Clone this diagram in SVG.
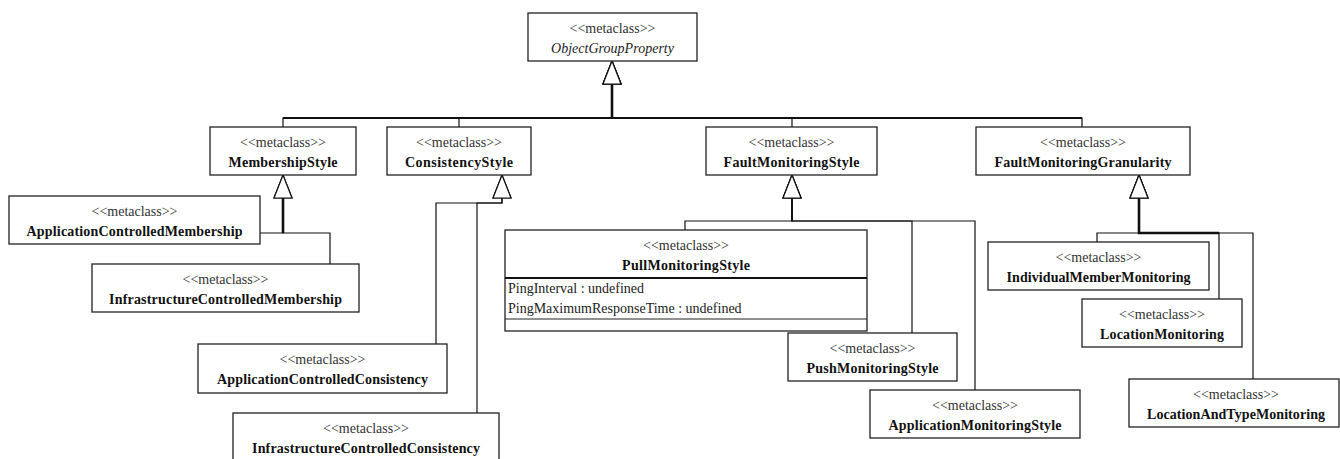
<svg xmlns="http://www.w3.org/2000/svg" width="1340" height="459" viewBox="0 0 1340 459">
<style>
  .box { fill: #ffffff; stroke: #222222; stroke-width: 1.3; }
  .sep { stroke: #111111; stroke-width: 2; }
  .sep2 { stroke: #222222; stroke-width: 1.2; }
  .st { font-family: "Liberation Serif", "Times New Roman", serif; font-size: 14px; fill: #333333; text-anchor: middle; }
  .nm { font-family: "Liberation Serif", "Times New Roman", serif; font-size: 14px; font-weight: bold; fill: #111111; text-anchor: middle; }
  .it { font-family: "Liberation Serif", "Times New Roman", serif; font-size: 14px; font-style: italic; fill: #222222; text-anchor: middle; }
  .at { font-family: "Liberation Serif", "Times New Roman", serif; font-size: 14px; fill: #222222; }
  .ln { fill: none; stroke: #111111; stroke-width: 1.2; marker-end: url(#gen); }
  .trunk { fill: none; stroke: #111111; stroke-width: 2.6; }
  .bar { fill: none; stroke: #111111; stroke-width: 1.8; }
</style>
<defs>
  <marker id="gen" markerUnits="userSpaceOnUse" viewBox="-1 -1 25 20" markerWidth="25" markerHeight="20" refX="23" refY="9" orient="auto">
    <path d="M0,0 L23,9 L0,18 Z" fill="#ffffff" stroke="#111111" stroke-width="1.2"/>
  </marker>
</defs>

<g id="connectors">
  <!-- to ObjectGroupProperty -->
  <path class="trunk" d="M612,118 L612,84"/>
  <path class="bar" d="M283,118 L1082,118"/>
  <path class="ln" d="M283,127 L283,118 L612,118 L612,61"/>
  <path class="ln" d="M459,127 L459,118 L612,118 L612,61"/>
  <path class="ln" d="M792,127 L792,118 L612,118 L612,61"/>
  <path class="ln" d="M1082,127 L1082,118 L612,118 L612,61"/>
  <!-- to MembershipStyle -->
  <path class="trunk" d="M283,233 L283,198"/>
  <path class="ln" d="M260,233 L283,233 L283,175"/>
  <path class="ln" d="M330,264 L330,233 L283,233 L283,175"/>
  <!-- to ConsistencyStyle -->
  <path class="ln" d="M436,344 L436,203 L502,203 L502,175"/>
  <path class="ln" d="M477,413 L477,203 L502,203 L502,175"/>
  <!-- to FaultMonitoringStyle -->
  <path class="bar" d="M792,221 L792,198"/>
  <path class="ln" d="M685,230 L685,221 L792,221 L792,175"/>
  <path class="ln" d="M912,333 L912,221 L792,221 L792,175"/>
  <path class="ln" d="M975,390 L975,221 L792,221 L792,175"/>
  <!-- to FaultMonitoringGranularity -->
  <path class="trunk" d="M1219,233 L1139,233 L1139,199"/>
  <path class="ln" d="M1097,242 L1097,233 L1139,233 L1139,175"/>
  <path class="ln" d="M1219,299 L1219,233 L1139,233 L1139,175"/>
  <path class="ln" d="M1253,379 L1253,233 L1139,233 L1139,175"/>
</g>

<g id="ObjectGroupProperty">
  <rect class="box" x="528" y="13" width="169" height="48"/>
  <text class="st" x="612.5" y="33">&lt;&lt;metaclass&gt;&gt;</text>
  <text class="it" x="612.5" y="53" textLength="123" lengthAdjust="spacing">ObjectGroupProperty</text>
</g>

<g id="MembershipStyle">
  <rect class="box" x="210" y="127" width="146" height="48"/>
  <text class="st" x="283" y="147">&lt;&lt;metaclass&gt;&gt;</text>
  <text class="nm" x="283" y="167" textLength="109" lengthAdjust="spacing">MembershipStyle</text>
</g>

<g id="ConsistencyStyle">
  <rect class="box" x="387" y="127" width="144" height="48"/>
  <text class="st" x="459" y="147">&lt;&lt;metaclass&gt;&gt;</text>
  <text class="nm" x="459" y="167" textLength="108" lengthAdjust="spacing">ConsistencyStyle</text>
</g>

<g id="FaultMonitoringStyle">
  <rect class="box" x="706" y="127" width="171" height="48"/>
  <text class="st" x="791.5" y="147">&lt;&lt;metaclass&gt;&gt;</text>
  <text class="nm" x="791.5" y="167" textLength="136" lengthAdjust="spacing">FaultMonitoringStyle</text>
</g>

<g id="FaultMonitoringGranularity">
  <rect class="box" x="976" y="127" width="214" height="48"/>
  <text class="st" x="1083" y="147">&lt;&lt;metaclass&gt;&gt;</text>
  <text class="nm" x="1083" y="167" textLength="177" lengthAdjust="spacing">FaultMonitoringGranularity</text>
</g>

<g id="ApplicationControlledMembership">
  <rect class="box" x="9" y="196" width="251" height="48"/>
  <text class="st" x="134.5" y="216">&lt;&lt;metaclass&gt;&gt;</text>
  <text class="nm" x="134.5" y="236" textLength="216" lengthAdjust="spacing">ApplicationControlledMembership</text>
</g>

<g id="InfrastructureControlledMembership">
  <rect class="box" x="92" y="264" width="267" height="48"/>
  <text class="st" x="225.5" y="284">&lt;&lt;metaclass&gt;&gt;</text>
  <text class="nm" x="225.5" y="304" textLength="233" lengthAdjust="spacing">InfrastructureControlledMembership</text>
</g>

<g id="ApplicationControlledConsistency">
  <rect class="box" x="198" y="344" width="249" height="49"/>
  <text class="st" x="322.5" y="364">&lt;&lt;metaclass&gt;&gt;</text>
  <text class="nm" x="322.5" y="384" textLength="211" lengthAdjust="spacing">ApplicationControlledConsistency</text>
</g>

<g id="InfrastructureControlledConsistency">
  <rect class="box" x="233" y="413" width="266" height="56"/>
  <text class="st" x="366" y="433">&lt;&lt;metaclass&gt;&gt;</text>
  <text class="nm" x="366" y="453" textLength="228" lengthAdjust="spacing">InfrastructureControlledConsistency</text>
</g>

<g id="PullMonitoringStyle">
  <rect class="box" x="505" y="230" width="362" height="101"/>
  <line class="sep" x1="505" y1="278" x2="867" y2="278"/>
  <line class="sep2" x1="505" y1="319" x2="867" y2="319"/>
  <text class="st" x="686" y="250">&lt;&lt;metaclass&gt;&gt;</text>
  <text class="nm" x="686" y="270" textLength="128" lengthAdjust="spacing">PullMonitoringStyle</text>
  <text class="at" x="508" y="293">PingInterval : undefined</text>
  <text class="at" x="508" y="313">PingMaximumResponseTime : undefined</text>
</g>

<g id="PushMonitoringStyle">
  <rect class="box" x="788" y="333" width="169" height="48"/>
  <text class="st" x="872.5" y="353">&lt;&lt;metaclass&gt;&gt;</text>
  <text class="nm" x="872.5" y="373" textLength="132" lengthAdjust="spacing">PushMonitoringStyle</text>
</g>

<g id="ApplicationMonitoringStyle">
  <rect class="box" x="870" y="390" width="210" height="48"/>
  <text class="st" x="975" y="410">&lt;&lt;metaclass&gt;&gt;</text>
  <text class="nm" x="975" y="430" textLength="173" lengthAdjust="spacing">ApplicationMonitoringStyle</text>
</g>

<g id="IndividualMemberMonitoring">
  <rect class="box" x="988" y="242" width="221" height="48"/>
  <text class="st" x="1098.5" y="262">&lt;&lt;metaclass&gt;&gt;</text>
  <text class="nm" x="1098.5" y="282" textLength="184" lengthAdjust="spacing">IndividualMemberMonitoring</text>
</g>

<g id="LocationMonitoring">
  <rect class="box" x="1082" y="299" width="160" height="48"/>
  <text class="st" x="1162" y="319">&lt;&lt;metaclass&gt;&gt;</text>
  <text class="nm" x="1162" y="339" textLength="124" lengthAdjust="spacing">LocationMonitoring</text>
</g>

<g id="LocationAndTypeMonitoring">
  <rect class="box" x="1129" y="379" width="210" height="48"/>
  <text class="st" x="1236" y="399">&lt;&lt;metaclass&gt;&gt;</text>
  <text class="nm" x="1236" y="419" textLength="178" lengthAdjust="spacing">LocationAndTypeMonitoring</text>
</g>
</svg>
